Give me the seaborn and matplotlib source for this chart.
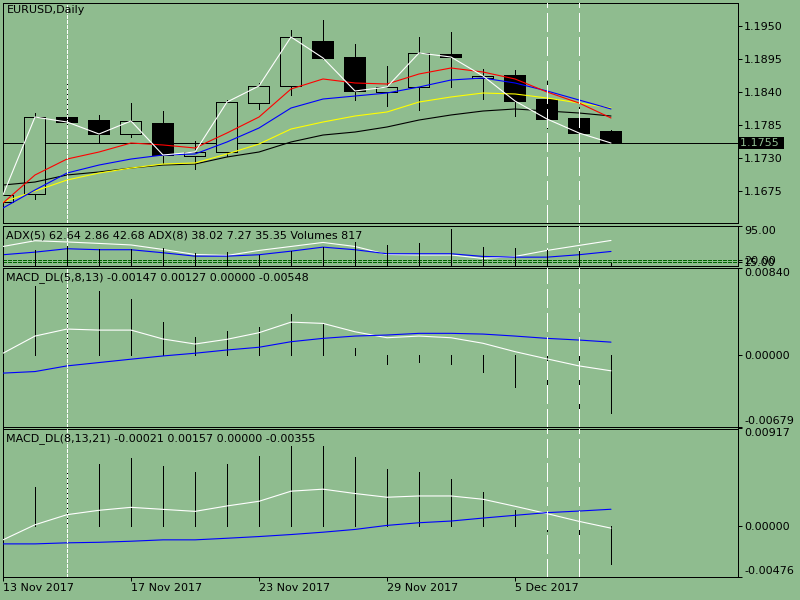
import numpy as np
import matplotlib
matplotlib.use("Agg")
import matplotlib.pyplot as plt
import seaborn as sns

# ---------------- data ----------------
date_labels = ["13 Nov 2017", "17 Nov 2017", "23 Nov 2017", "29 Nov 2017", "5 Dec 2017"]
date_label_idx = [0, 4, 8, 12, 16]

opens  = [1.16567, 1.16700, 1.17983, 1.17933, 1.17700, 1.17883, 1.17333, 1.17400, 1.18217, 1.18500,
          1.19250, 1.18983, 1.18400, 1.18483, 1.19033, 1.18633, 1.18683, 1.18283, 1.17967, 1.17750]
highs  = [1.16767, 1.18050, 1.18600, 1.18017, 1.18217, 1.18083, 1.17583, 1.18267, 1.18550, 1.19433,
          1.19600, 1.19200, 1.18833, 1.19317, 1.19400, 1.18783, 1.18767, 1.18583, 1.18150, 1.17767]
lows   = [1.16517, 1.16617, 1.17850, 1.17550, 1.17650, 1.17217, 1.17117, 1.17333, 1.18117, 1.18350,
          1.18950, 1.18267, 1.18167, 1.18100, 1.18483, 1.18283, 1.18000, 1.17800, 1.17700, 1.17550]
closes = [1.16683, 1.17983, 1.17900, 1.17700, 1.17917, 1.17350, 1.17400, 1.18233, 1.18500, 1.19317,
          1.18967, 1.18417, 1.18483, 1.19050, 1.18983, 1.18667, 1.18250, 1.17950, 1.17717, 1.17550]

ma_red    = [1.16550, 1.17017, 1.17283, 1.17400, 1.17550, 1.17517, 1.17467, 1.17717, 1.17983, 1.18450,
             1.18617, 1.18550, 1.18533, 1.18700, 1.18800, 1.18733, 1.18617, 1.18400, 1.18217, 1.17967]
ma_blue   = [1.16467, 1.16767, 1.17050, 1.17183, 1.17283, 1.17350, 1.17367, 1.17567, 1.17800, 1.18133,
             1.18283, 1.18333, 1.18383, 1.18483, 1.18600, 1.18633, 1.18550, 1.18417, 1.18267, 1.18117]
ma_yellow = [1.16567, 1.16750, 1.16933, 1.17050, 1.17133, 1.17200, 1.17217, 1.17367, 1.17533, 1.17783,
             1.17900, 1.18000, 1.18067, 1.18233, 1.18317, 1.18383, 1.18367, 1.18300, 1.18217, 1.18133]
ma_black  = [1.16850, 1.16900, 1.17017, 1.17067, 1.17133, 1.17183, 1.17200, 1.17317, 1.17400, 1.17567,
             1.17683, 1.17733, 1.17817, 1.17933, 1.18017, 1.18083, 1.18117, 1.18083, 1.18050, 1.18000]

price_ticks = [1.1950, 1.1895, 1.1840, 1.1785, 1.1730, 1.1675]
last_price = 1.1755

adx_white = [49.2, 62.0, 59.3, 56.0, 52.6, 42.5, 31.3, 29.1, 40.3, 49.2,
             58.2, 49.2, 31.3, 30.2, 30.2, 22.4, 26.9, 40.3, 51.5, 62.64]
adx_blue  = [30.7, 36.5, 44.1, 41.9, 41.9, 35.1, 27.5, 27.5, 30.7, 38.7,
             47.7, 41.9, 32.9, 32.9, 32.9, 26.9, 25.3, 25.3, 30.7, 38.02]
volumes   = [4100, 4380, 5690, 4810, 4810, 5110, 3650, 3940, 3060, 4230,
             5400, 6860, 5980, 6570, 10650, 5400, 5110, 4520, 4230, 817]
adx_levels = [20.0, 15.0]
adx_ticks = [95.0, 20.0, 15.0]

macd1_hist = [0.00600, 0.00660, 0.00669, 0.00612, 0.00536, 0.00321, 0.00179, 0.00233, 0.00274, 0.00394,
              0.00299, 0.00070, -0.00080, -0.00060, -0.00080, -0.00160, -0.00300, -0.00410, -0.00500, -0.00548]
macd1_main = [0.00021, 0.00185, 0.00252, 0.00242, 0.00242, 0.00157, 0.00109, 0.00154, 0.00217, 0.00318,
              0.00306, 0.00226, 0.00169, 0.00185, 0.00169, 0.00116, 0.00036, -0.00033, -0.00100, -0.00147]
macd1_sig  = [-0.00169, -0.00154, -0.00100, -0.00068, -0.00036, -0.00005, 0.00021, 0.00052, 0.00078, 0.00131,
              0.00163, 0.00185, 0.00195, 0.00211, 0.00211, 0.00204, 0.00185, 0.00163, 0.00147, 0.00127]
macd1_ticks = [0.00840, 0.00000, -0.00679]

macd2_hist = [0.00300, 0.00368, 0.00526, 0.00583, 0.00640, 0.00564, 0.00507, 0.00583, 0.00659, 0.00754,
              0.00754, 0.00649, 0.00538, 0.00507, 0.00444, 0.00318, 0.00147, -0.00050, -0.00223, -0.00355]
macd2_main = [-0.00131, 0.00011, 0.00106, 0.00147, 0.00175, 0.00156, 0.00137, 0.00188, 0.00232, 0.00327,
              0.00346, 0.00305, 0.00270, 0.00282, 0.00282, 0.00251, 0.00185, 0.00116, 0.00043, -0.00021]
macd2_sig  = [-0.00169, -0.00169, -0.00159, -0.00154, -0.00144, -0.00131, -0.00131, -0.00116, -0.00100, -0.00081,
              -0.00059, -0.00033, 0.00005, 0.00030, 0.00046, 0.00074, 0.00100, 0.00125, 0.00140, 0.00157]
macd2_ticks = [0.00917, 0.00000, -0.00476]

title_text = "EURUSD,Daily"
adx_text = "ADX(5) 62.64 2.86 42.68 ADX(8) 38.02 7.27 35.35 Volumes 817"
macd1_text = "MACD_DL(5,8,13) -0.00147 0.00127 0.00000 -0.00548"
macd2_text = "MACD_DL(8,13,21) -0.00021 0.00157 0.00000 -0.00355"

vline_fine_idx = [2]
vline_long_idx = [17, 18]

# ---------------- style ----------------
BG = "#8FBC8F"
LW = 0.72   # 1 px
sns.set_style("white", rc={"axes.facecolor": BG, "figure.facecolor": BG,
                           "axes.edgecolor": "black"})
plt.rcParams["font.family"] = ["DejaVu Sans"]
plt.rcParams["axes.unicode_minus"] = False
plt.rcParams["lines.scale_dashes"] = False
plt.rcParams["lines.antialiased"] = False
plt.rcParams["patch.antialiased"] = False
FS = 8

fig = plt.figure(figsize=(8, 6), dpi=100)
fig.patch.set_facecolor(BG)


def px_axes(x0, y0, x1, y1):
    return fig.add_axes([x0 / 800, 1 - y1 / 600, (x1 - x0) / 800, (y1 - y0) / 600])


idx = np.arange(len(closes))
XMAX = 735 / 32.0

ax_main = px_axes(3, 3, 738, 223)
ax_adx = px_axes(3, 226, 738, 265.5)
ax_m1 = px_axes(3, 267.5, 738, 426.5)
ax_m2 = px_axes(3, 428.5, 738, 576.5)
axes = [ax_main, ax_adx, ax_m1, ax_m2]


def right_ticks(ax):
    ax.yaxis.tick_right()
    ax.yaxis.set_label_position("right")
    ax.tick_params(axis="y", direction="out", length=3, width=LW, pad=1.5,
                   labelsize=FS, colors="black", left=False, right=True,
                   labelleft=False, labelright=True)


for ax in axes:
    ax.set_facecolor(BG)
    ax.set_xlim(0, XMAX)
    for s in ax.spines.values():
        s.set_linewidth(LW)
        s.set_color("black")
        s.set_visible(True)
    right_ticks(ax)
    ax.tick_params(axis="x", bottom=False, labelbottom=False)
    for i in vline_fine_idx:
        ax.axvline(i, color="white", lw=LW, dashes=(2.2, 1.4), zorder=6)
    for i in vline_long_idx:
        ax.axvline(i, color="white", lw=LW, dashes=(13, 3.6), zorder=6)


def header(ax, text, dx_px, dy_px):
    ax.annotate(text, xy=(0, 1), xycoords="axes fraction",
                xytext=(dx_px * 0.72, -dy_px * 0.72), textcoords="offset points",
                ha="left", va="top", fontsize=FS, color="black", zorder=10)


def set_right_ticks(ax, ticks, labels, edge_align=True):
    ax.set_yticks(ticks)
    ax.set_yticklabels(labels)
    if edge_align:
        tl = ax.get_yticklabels()
        tl[0].set_va("top")
        tl[-1].set_va("bottom")


def line(ax, y, col):
    n_before = len(ax.lines)
    sns.lineplot(x=idx, y=y, ax=ax, color=col, estimator=None, legend=False, zorder=4)
    for ln in ax.lines[n_before:]:
        ln.set_linewidth(0.8)
        ln.set_antialiased(True)


# ---------------- main price panel ----------------
ax = ax_main
ax.set_ylim(1.16217, 1.19883)
ax.axhline(last_price, color="black", lw=LW, zorder=1.5)
o = np.array(opens); c = np.array(closes)
ax.vlines(idx, lows, highs, colors="black", lw=LW, zorder=2)
bottoms = np.minimum(o, c)
heights = np.abs(c - o)
faces = ["black" if cc < oo else BG for oo, cc in zip(o, c)]
ax.bar(idx, heights, bottom=bottoms, width=21 / 32, color=faces,
       edgecolor="black", linewidth=LW, zorder=3)
for arr, col in [(ma_black, "black"), (ma_yellow, "yellow"), (ma_blue, "blue"),
                 (ma_red, "red"), (closes, "white")]:
    line(ax, arr, col)
ax.set_xlabel(""); ax.set_ylabel("")
set_right_ticks(ax, price_ticks, [f"{v:.4f}" for v in price_ticks], edge_align=False)
header(ax, title_text, 4, 1.7)
ax.text(1 + 2.5 / 735, last_price, f"{last_price:.4f} ", transform=ax.get_yaxis_transform(),
        ha="left", va="center", fontsize=FS, color=BG, zorder=10,
        bbox=dict(boxstyle="square,pad=0.12", fc="black", ec="none"))

# ---------------- ADX / volumes panel ----------------
ax = ax_adx
axv = ax.twinx()
axv.set_ylim(0, 11525)
axv.set_xlim(0, XMAX)
axv.vlines(idx, 0, volumes, colors="black", lw=LW, zorder=2)
axv.set_axis_off()
right_ticks(ax)
ax.set_ylim(6.6, 95)
for lv in adx_levels:
    ax.axhline(lv, color="#006400", lw=LW, dashes=(2.2, 1.4), zorder=1.5)
line(ax, adx_white, "white")
line(ax, adx_blue, "blue")
ax.set_xlabel(""); ax.set_ylabel("")
set_right_ticks(ax, adx_ticks, [f"{v:.2f}" for v in adx_ticks], edge_align=False)
ax.get_yticklabels()[0].set_va("top")
header(ax, adx_text, 3, 5)

# ---------------- MACD panels ----------------
for ax, hist, main, sig, ticks, txt, lim in [
        (ax_m1, macd1_hist, macd1_main, macd1_sig, macd1_ticks, macd1_text, (-0.00679, 0.00840)),
        (ax_m2, macd2_hist, macd2_main, macd2_sig, macd2_ticks, macd2_text, (-0.00476, 0.00917))]:
    ax.set_ylim(*lim)
    ax.vlines(idx, 0, hist, colors="black", lw=LW, zorder=2)
    line(ax, main, "white")
    line(ax, sig, "blue")
    ax.set_xlabel(""); ax.set_ylabel("")
    set_right_ticks(ax, ticks, [f"{v:.5f}" for v in ticks])
    header(ax, txt, 3, 4.5)

# date axis at bottom
ax = ax_m2
ax.set_xticks(date_label_idx)
ax.set_xticklabels(date_labels, ha="left")
ax.tick_params(axis="x", bottom=True, labelbottom=True, direction="out", length=3,
               width=LW, pad=1.5, labelsize=FS, colors="black")

fig.savefig("out.png", dpi=100, facecolor=BG)
